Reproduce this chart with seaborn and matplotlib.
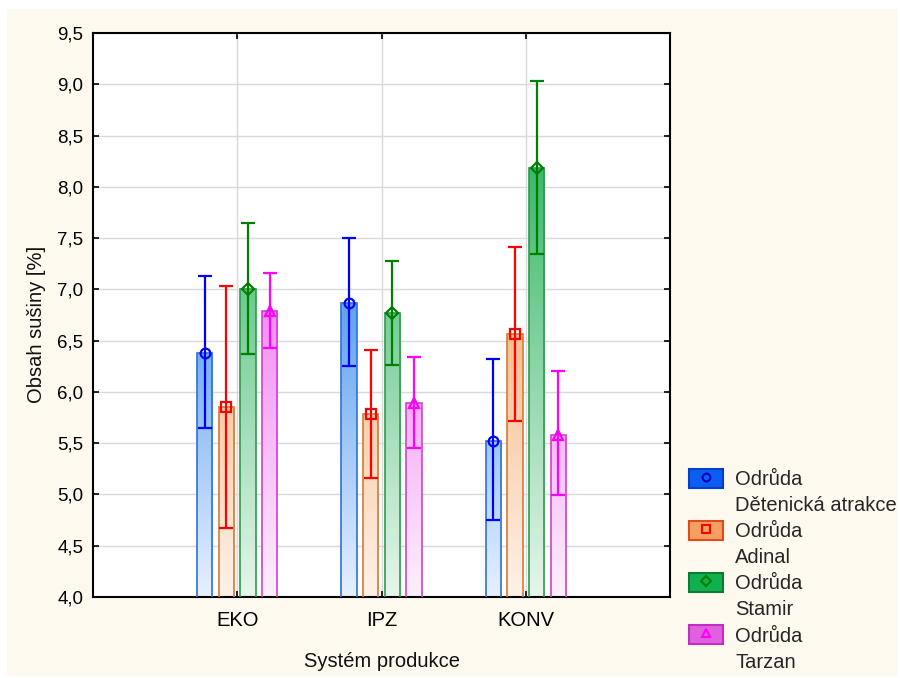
import numpy as np
import pandas as pd
import matplotlib
matplotlib.use("Agg")
import matplotlib.pyplot as plt
import seaborn as sns
from matplotlib.patches import Patch, Rectangle
from matplotlib.lines import Line2D
from matplotlib.colors import to_rgb
from matplotlib.ticker import FixedLocator, FuncFormatter
from matplotlib.legend_handler import HandlerTuple

# ---------------- data ----------------
categories = ["EKO", "IPZ", "KONV"]
varieties = ["Dětenická atrakce", "Adinal", "Stamir", "Tarzan"]

mean_detenicka = [6.38, 6.87, 5.52]
mean_adinal = [5.85, 5.78, 6.56]
mean_stamir = [7.00, 6.77, 8.18]
mean_tarzan = [6.79, 5.89, 5.58]

upper_detenicka = [7.13, 7.50, 6.32]
upper_adinal = [7.03, 6.41, 7.41]
upper_stamir = [7.65, 7.28, 9.03]
upper_tarzan = [7.16, 6.34, 6.20]

lower_detenicka = [5.65, 6.25, 4.75]
lower_adinal = [4.67, 5.16, 5.72]
lower_stamir = [6.37, 6.26, 7.34]
lower_tarzan = [6.43, 5.45, 4.99]

y_ticks = [4.0, 4.5, 5.0, 5.5, 6.0, 6.5, 7.0, 7.5, 8.0, 8.5, 9.0, 9.5]

means = [mean_detenicka, mean_adinal, mean_stamir, mean_tarzan]
uppers = [upper_detenicka, upper_adinal, upper_stamir, upper_tarzan]
lowers = [lower_detenicka, lower_adinal, lower_stamir, lower_tarzan]

# ---------------- styles ----------------
err_colors = ["#0000ff", "#ff0000", "#008000", "#ff00ff"]
edge_colors = ["#2f6fe0", "#d27a3c", "#2e9a4e", "#cc44cc"]
dark_fill = ["#5ea2ee", "#f7bf8e", "#3cb969", "#f48ef4"]
light_fill = ["#e6f1fe", "#fdf2e8", "#e6f6ec", "#fdf0fd"]
leg_fill = ["#0a5ef0", "#f4a060", "#10b050", "#e060e0"]
leg_edge = ["#0040c8", "#e04a1c", "#107a34", "#c030c0"]
markers = ["o", "s", "D", "^"]
msizes = [7, 7, 6, 7.5]
cream = "#fef9ef"

sns.set_theme(style="white")
plt.rcParams["font.family"] = ["Liberation Sans", "DejaVu Sans"]

rows = []
for v, m in zip(varieties, means):
    for c, val in zip(categories, m):
        rows.append({"system": c, "variety": v, "mean": val})
df = pd.DataFrame(rows)

fig = plt.figure(figsize=(9, 6.78), dpi=100, facecolor="white")
fig.patches.append(Rectangle((7 / 900, 2 / 678), 891 / 900, 667 / 678,
                             transform=fig.transFigure, facecolor=cream,
                             edgecolor="none", zorder=-10))
ax = fig.add_axes([93 / 900, (678 - 597) / 678, (670 - 93) / 900, (597 - 33) / 678])
ax.set_facecolor("white")

sns.barplot(data=df, x="system", y="mean", hue="variety", order=categories,
            hue_order=varieties, width=0.6, gap=0.3, errorbar=None,
            legend=False, palette=edge_colors, ax=ax)

bar_containers = list(ax.containers)
ymin, ymax = 4.0, 9.5
for i, cont in enumerate(bar_containers):
    smax = max(means[i])
    c_dark = np.array(to_rgb(dark_fill[i]))
    c_light = np.array(to_rgb(light_fill[i]))
    xs = []
    for j, bar in enumerate(cont.patches):
        x0 = bar.get_x()
        w = bar.get_width()
        top = bar.get_y() + bar.get_height()
        xs.append(x0 + w / 2)
        bar.set_facecolor("none")
        bar.set_edgecolor(edge_colors[i])
        bar.set_linewidth(1.2)
        bar.set_zorder(3)
        n = 200
        yy = np.linspace(top, ymin, n)
        t = np.clip((yy - ymin) / (smax - ymin), 0, 1)[:, None]
        grad = c_light + (c_dark - c_light) * t
        img = grad[:, None, :].repeat(2, axis=1)
        im = ax.imshow(img, extent=[x0, x0 + w, ymin, top], aspect="auto",
                       origin="upper", zorder=2, interpolation="bilinear")
        im.set_clip_path(bar)
    xs = np.array(xs)
    m = np.array(means[i])
    yerr = [m - np.array(lowers[i]), np.array(uppers[i]) - m]
    ax.errorbar(xs, m, yerr=yerr, fmt="none", ecolor=err_colors[i],
                elinewidth=1.6, capsize=5, capthick=1.6, zorder=5)
    ax.plot(xs, m, linestyle="none", marker=markers[i], ms=msizes[i],
            mfc="none", mec=err_colors[i], mew=1.6, zorder=6)

ax.set_xlim(-1.0, 3.0)
ax.set_ylim(ymin, ymax)
ax.yaxis.set_major_locator(FixedLocator(y_ticks))
ax.yaxis.set_major_formatter(FuncFormatter(lambda v, p: f"{v:.1f}".replace(".", ",")))
ax.grid(True, color="#d9d9d9", linewidth=1.0)
ax.set_axisbelow(True)
for s in ax.spines.values():
    s.set_color("black")
    s.set_linewidth(1.5)
    s.set_visible(True)
ax.tick_params(axis="both", direction="in", length=4, width=1.2, colors="black",
               bottom=True, left=True, top=True, right=True)
ax.tick_params(axis="x", labelsize=14.5, pad=10)
ax.tick_params(axis="y", labelsize=13.5, pad=7)
ax.set_xlabel("Systém produkce", fontsize=14.5, labelpad=16, color="#111111")
ax.set_ylabel("Obsah sušiny [%]", fontsize=14.5, color="#111111")
ax.yaxis.set_label_coords(-0.082, 0.484)

# ---------------- legend ----------------
handles, labels = [], []
for i, v in enumerate(varieties):
    p = Patch(facecolor=leg_fill[i], edgecolor=leg_edge[i], linewidth=1.5)
    mk = Line2D([], [], linestyle="none", marker=markers[i], ms=msizes[i] * 0.8,
                mfc="none", mec=err_colors[i] if i != 0 else "#0000c0", mew=1.5)
    handles.append((p, mk))
    labels.append("Odrůda")
    handles.append(Patch(facecolor="none", edgecolor="none"))
    labels.append(v)
fig.legend(handles, labels, loc="upper left", bbox_to_anchor=(689 / 900, 1 - 469 / 678),
           frameon=False, borderpad=0, borderaxespad=0, handlelength=1.7,
           handleheight=1.05, handletextpad=0.6, labelspacing=0.29, fontsize=14.5,
           handler_map={tuple: HandlerTuple(ndivide=1, pad=0)})

fig.savefig("out.png", dpi=100, facecolor=fig.get_facecolor())
